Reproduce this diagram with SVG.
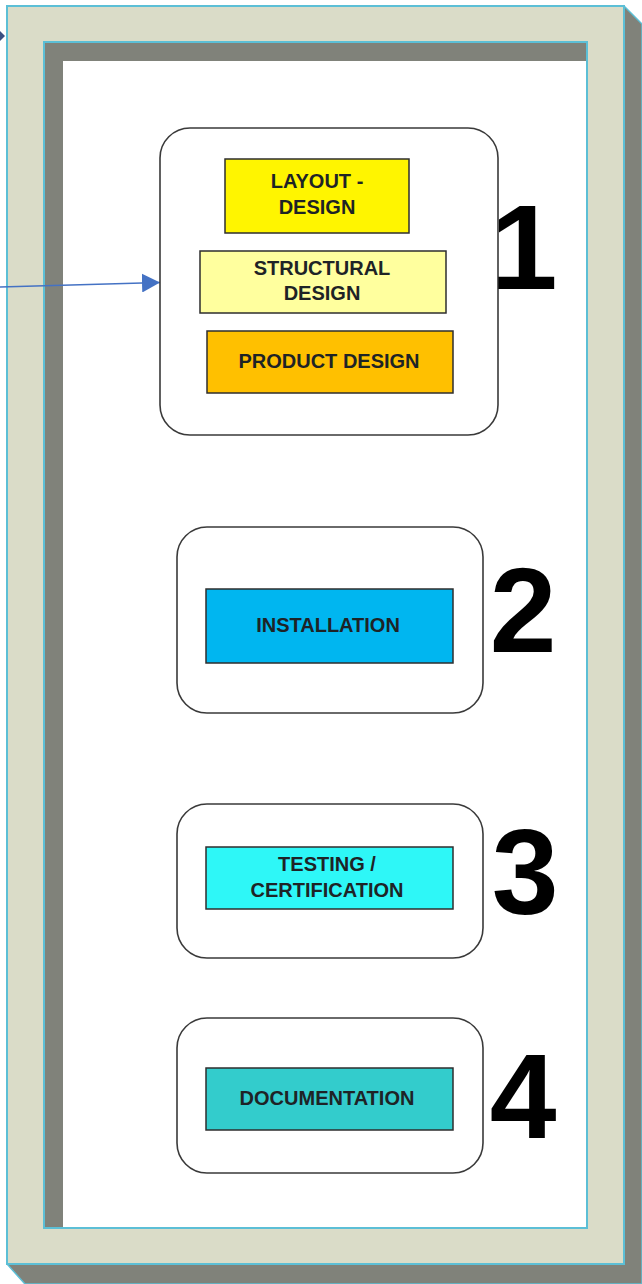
<svg xmlns="http://www.w3.org/2000/svg" width="642" height="1284" viewBox="0 0 642 1284">
<style>
.frame{fill:#DADCC8;stroke:#5CBFD6;stroke-width:2}
.shadow{fill:#80827A;stroke:#5CBFD6;stroke-width:1.5}
.hole{fill:#FFFFFF;stroke:#5CBFD6;stroke-width:2}
.grp{fill:#FFFFFF;stroke:#3A3A3A;stroke-width:1.6}
.box{stroke:#2E2E2E;stroke-width:1.5}
.lbl{font-family:"Liberation Sans",Arial,sans-serif;font-weight:bold;font-size:20px;fill:#1E2326;text-anchor:middle}
.num{font-family:"Liberation Sans",Arial,sans-serif;font-weight:bold;font-size:120px;fill:#000000;text-anchor:middle}
.conn{stroke:#4472C4;stroke-width:1.6;fill:none}
</style>
<defs>
<marker id="ah" viewBox="0 0 18 19" refX="18" refY="9.5" markerWidth="18" markerHeight="19" markerUnits="userSpaceOnUse" orient="auto">
<path d="M0,0 L18,9.5 L0,19 Z" fill="#4472C4"/>
</marker>
</defs>
<rect width="642" height="1284" fill="#FFFFFF"/>
<g id="frame">
<polygon class="shadow" points="624,6 642,24 642,1284 25,1284 7,1264"/>
<rect class="frame" x="7" y="6" width="617" height="1258"/>
<rect class="hole" x="44" y="42" width="543" height="1186"/>
<polygon points="44,42 587,42 587,61 63,61 63,1228 44,1228" fill="#80827A"/>
<rect x="44" y="42" width="543" height="1186" fill="none" stroke="#5CBFD6" stroke-width="2"/>
</g>
<g id="connectors">
<line class="conn" x1="0" y1="287" x2="160" y2="282.5" marker-end="url(#ah)"/>
<polygon points="0,31 5,36 0,41" fill="#3A4F82"/>
</g>
<g id="node1">
<rect class="grp" x="160" y="128" width="338" height="307" rx="30" ry="30"/>
<rect class="box" x="225" y="159" width="184" height="74" fill="#FFF500"/>
<text class="lbl" x="317" y="188">LAYOUT -</text>
<text class="lbl" x="317" y="214">DESIGN</text>
<rect class="box" x="200" y="251" width="246" height="62" fill="#FFFF9E"/>
<text class="lbl" x="322" y="275">STRUCTURAL</text>
<text class="lbl" x="322" y="300">DESIGN</text>
<rect class="box" x="207" y="331" width="246" height="62" fill="#FFC000"/>
<text class="lbl" x="329" y="368">PRODUCT DESIGN</text>
<text class="num" x="524" y="289">1</text>
</g>
<g id="node2">
<rect class="grp" x="177" y="527" width="306" height="186" rx="30" ry="30"/>
<rect class="box" x="206" y="589" width="247" height="74" fill="#00B6F0"/>
<text class="lbl" x="328" y="632">INSTALLATION</text>
<text class="num" x="523" y="652">2</text>
</g>
<g id="node3">
<rect class="grp" x="177" y="804" width="306" height="154" rx="30" ry="30"/>
<rect class="box" x="206" y="847" width="247" height="62" fill="#2EF7F7"/>
<text class="lbl" x="327" y="871">TESTING /</text>
<text class="lbl" x="327" y="897">CERTIFICATION</text>
<text class="num" x="525" y="914">3</text>
</g>
<g id="node4">
<rect class="grp" x="177" y="1018" width="306" height="155" rx="30" ry="30"/>
<rect class="box" x="206" y="1068" width="247" height="62" fill="#33CCCC"/>
<text class="lbl" x="327" y="1105">DOCUMENTATION</text>
<text class="num" x="523" y="1138">4</text>
</g>
</svg>
